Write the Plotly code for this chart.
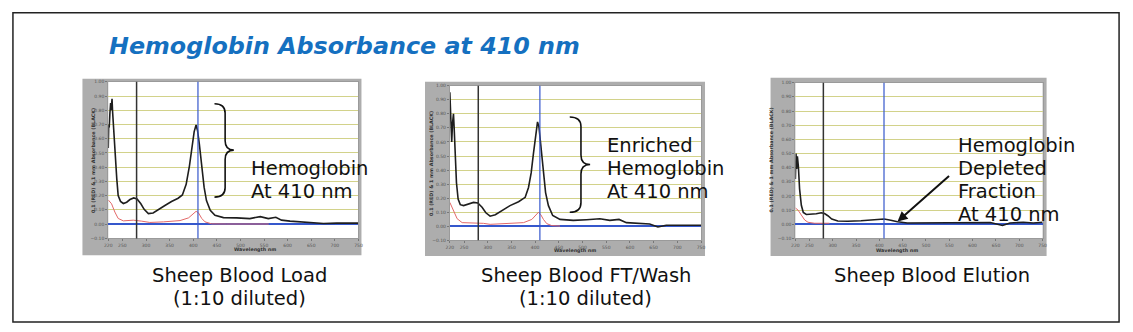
import plotly.graph_objects as go

W, H = 1133, 332

# ---- Spectra: Sheep Blood Load (1:10 diluted) ----
load_wl = [220, 221, 222, 223.5, 225, 226, 228, 229, 231, 234, 238, 241, 246, 252, 259, 266, 274,
           281, 289, 296, 305, 315, 326, 340, 354, 368, 377, 385, 392, 397, 402, 406, 409, 413,
           418, 423, 428, 436, 446, 464, 492, 520, 542, 559, 575, 587, 605, 626, 648, 676, 704, 750]
load_abs = [0.535, 0.70, 0.68, 0.78, 0.85, 0.80, 0.88, 0.80, 0.68, 0.50, 0.32, 0.20, 0.16, 0.145,
            0.154, 0.173, 0.184, 0.177, 0.143, 0.104, 0.074, 0.078, 0.104, 0.131, 0.159, 0.182,
            0.205, 0.28, 0.41, 0.546, 0.65, 0.696, 0.66, 0.56, 0.40, 0.26, 0.166, 0.097, 0.062,
            0.046, 0.044, 0.039, 0.053, 0.039, 0.048, 0.028, 0.021, 0.016, 0.009, 0.005, 0.007, 0.007]
load_red_wl = [220, 227, 234, 241, 252, 273, 291, 308, 337, 372, 390, 399, 406, 411, 418, 425, 439,
               470, 520, 560]
load_red = [0.17, 0.143, 0.085, 0.04, 0.023, 0.028, 0.021, 0.012, 0.016, 0.025, 0.044, 0.069, 0.09,
            0.08, 0.04, 0.016, 0.002, 0.001, 0.002, 0.001]

# ---- Spectra: Sheep Blood FT/Wash (1:10 diluted) ----
wash_wl = [220, 221.4, 222.8, 224, 225.6, 227.7, 229, 231, 234, 237.5, 242, 249, 260, 270, 279, 288,
           296, 305, 316, 330, 347, 365, 379, 386, 391.6, 396.5, 400.7, 405, 408, 412.6, 417.5,
           422, 428, 437, 452.5, 480.5, 508.5, 536.5, 557.5, 577, 592.5, 613.5, 641.6, 659, 676.6,
           704.6, 750]
wash_abs = [0.953, 0.78, 0.65, 0.60, 0.73, 0.80, 0.71, 0.52, 0.31, 0.194, 0.154, 0.147, 0.159, 0.17,
            0.166, 0.136, 0.096, 0.072, 0.082, 0.112, 0.147, 0.175, 0.206, 0.276, 0.38, 0.52, 0.64,
            0.743, 0.708, 0.568, 0.38, 0.24, 0.147, 0.077, 0.049, 0.042, 0.047, 0.054, 0.042, 0.049,
            0.026, 0.021, 0.016, -0.005, 0.007, 0.007, 0.007]
wash_red_wl = [220, 228.4, 235.4, 246, 270, 291, 305, 340, 375.5, 393, 401, 407, 412, 417.5, 424.5,
               435, 452.5]
wash_red = [0.17, 0.112, 0.054, 0.026, 0.026, 0.021, 0.014, 0.019, 0.026, 0.049, 0.082, 0.10, 0.082,
            0.049, 0.019, 0.005, 0.002]

# ---- Spectra: Sheep Blood Elution ----
elu_wl = [220, 221.4, 222.8, 224.3, 226.4, 229, 232.8, 237, 243.4, 254, 264.8, 275.4, 282.5, 289.6,
          298, 311, 332, 360.7, 382, 399.8, 410.4, 424.6, 438.8, 460, 495.7, 531, 566.7, 602, 637.8,
          664, 680, 708.8, 730, 750]
elu_abs = [0.32, 0.50, 0.39, 0.48, 0.41, 0.25, 0.134, 0.083, 0.069, 0.069, 0.074, 0.081, 0.076, 0.06,
           0.037, 0.023, 0.021, 0.025, 0.030, 0.037, 0.037, 0.028, 0.018, 0.009, 0.009, 0.012, 0.014,
           0.012, 0.012, -0.009, 0.009, 0.014, 0.009, 0.014]
elu_red_wl = [220, 225.7, 232.8, 240, 247, 261, 282.5, 293]
elu_red = [0.115, 0.10, 0.065, 0.03, 0.014, 0.007, 0.007, 0.007]

# ---- Axis settings ----
x_ticks = [220, 250, 300, 350, 400, 450, 500, 550, 600, 650, 700, 750]
y_ticks = [-0.10, 0.00, 0.10, 0.20, 0.30, 0.40, 0.50, 0.60, 0.70, 0.80, 0.90, 1.00]
marker_lines_nm = [280, 410]

# plot areas in pixels: (left, top, right, bottom)
plot_boxes = [(105, 81, 357, 240), (449, 85, 702, 242), (797, 82, 1046, 240)]
# grey instrument panels behind each plot: (left, top, right, bottom)
panels = [(79, 78, 360, 257), (424, 81, 706, 258), (772, 77, 1050, 258)]

captions = [["Sheep Blood Load", "(1:10 diluted)"],
            ["Sheep Blood FT/Wash", "(1:10 diluted)"],
            ["Sheep Blood Elution"]]
caption_cx = [237, 586, 935]

TEXT_FONT = "DejaVu Sans"
GRID = "#d2d28a"
BLUE = "#3557cc"


def px(x):
    return x / W


def py(y):
    return 1 - y / H


fig = go.Figure()
series = [(load_wl, load_abs, load_red_wl, load_red),
          (wash_wl, wash_abs, wash_red_wl, wash_red),
          (elu_wl, elu_abs, elu_red_wl, elu_red)]

shapes = []
annotations = []

for i, (wl, ab, rwl, rd) in enumerate(series):
    xa = "x" if i == 0 else f"x{i + 1}"
    ya = "y" if i == 0 else f"y{i + 1}"
    fig.add_trace(go.Scatter(x=rwl, y=rd, mode="lines", xaxis=xa, yaxis=ya,
                             line=dict(color="#e26868", width=1), showlegend=False))
    fig.add_trace(go.Scatter(x=wl, y=ab, mode="lines", xaxis=xa, yaxis=ya,
                             line=dict(color="#1e1e1e", width=1.6), showlegend=False))

    l, t, r, b = plot_boxes[i]
    axis_common = dict(showline=True, linecolor="#9a9a9a", linewidth=1, mirror=True,
                       ticks="outside", ticklen=2, tickcolor="#777",
                       tickfont=dict(family=TEXT_FONT, size=4.5, color="#555"))
    key = "" if i == 0 else str(i + 1)
    fig.update_layout(**{
        f"xaxis{key}": dict(domain=[px(l), px(r)], range=[220, 750], tickvals=x_ticks,
                            showgrid=False, zeroline=False, anchor=ya, **axis_common),
        f"yaxis{key}": dict(domain=[py(b), py(t)], range=[-0.10, 1.00], tickvals=y_ticks,
                            tickformat=".2f", showgrid=True, gridcolor=GRID, gridwidth=1.4,
                            zeroline=True, zerolinecolor=BLUE, zerolinewidth=1.6,
                            anchor=xa, **axis_common),
    })

    # grey panel, with the white plotting area on top of it
    pl, pt, pr, pb = panels[i]
    shapes.append(dict(type="rect", xref="paper", yref="paper", x0=px(pl), x1=px(pr),
                       y0=py(pb), y1=py(pt), fillcolor="#adadad", line=dict(width=0),
                       layer="below"))
    shapes.append(dict(type="rect", xref="paper", yref="paper", x0=px(l), x1=px(r),
                       y0=py(b), y1=py(t), fillcolor="white", line=dict(width=0),
                       layer="below"))
    # marker wavelengths
    for nm, col, wdt in zip(marker_lines_nm, ["#333333", BLUE], [1.5, 1.2]):
        shapes.append(dict(type="line", xref=xa, yref=f"{ya} domain", x0=nm, x1=nm, y0=0, y1=1,
                           line=dict(color=col, width=wdt), layer="above"))
    # axis titles inside the panel
    annotations.append(dict(text="<b>0.1 (RED) &amp; 1 mm Absorbance (BLACK)</b>", textangle=-90,
                            xref="paper", yref="paper", x=px(pl + 6), y=py((t + b) / 2),
                            showarrow=False, font=dict(family=TEXT_FONT, size=4.8, color="#333")))
    annotations.append(dict(text="<b>Wavelength nm</b>", xref="paper", yref="paper",
                            x=px((l + r) / 2), y=py(pb - 1), yanchor="bottom",
                            showarrow=False, borderpad=0,
                            font=dict(family=TEXT_FONT, size=4.8, color="#333")))
    # captions
    for j, line in enumerate(captions[i]):
        annotations.append(dict(text=line, xref="paper", yref="paper", x=px(caption_cx[i]),
                                y=py(278 + 23 * j), xanchor="center", yanchor="middle",
                                showarrow=False,
                                font=dict(family=TEXT_FONT, size=19.5, color="#111")))


def brace(xref, yref, x0, x1, yt, yb, ym):
    xs = x0 + 0.55 * (x1 - x0)
    rr = 0.10 * (yt - yb)
    d = (f"M {x0},{yt} Q {xs},{yt} {xs},{yt - rr} L {xs},{ym + rr} "
         f"Q {xs},{ym} {x1},{ym} Q {xs},{ym} {xs},{ym - rr} L {xs},{yb + rr} "
         f"Q {xs},{yb} {x0},{yb}")
    return dict(type="path", xref=xref, yref=yref, path=d,
                line=dict(color="#111", width=1.6), layer="above")


shapes.append(brace("x", "y", 445, 486, 0.846, 0.19, 0.52))
shapes.append(brace("x2", "y2", 473, 516, 0.778, 0.10, 0.44))

# outer frame
shapes.append(dict(type="rect", xref="paper", yref="paper", x0=px(9), x1=px(1123),
                   y0=py(325), y1=py(11), line=dict(color="#222", width=1.5),
                   fillcolor="rgba(0,0,0,0)", layer="above"))

# side labels
side_labels = [(247, ["Hemoglobin", "At 410 nm"], 169),
               (605, ["Enriched", "Hemoglobin", "At 410 nm"], 146),
               (959, ["Hemoglobin", "Depleted", "Fraction", "At 410 nm"], 146)]
for xl, lines, y0 in side_labels:
    for j, line in enumerate(lines):
        annotations.append(dict(text=line, xref="paper", yref="paper", x=px(xl),
                                y=py(y0 + 23.3 * j), xanchor="left", yanchor="middle",
                                showarrow=False,
                                font=dict(family=TEXT_FONT, size=19.5, color="#111")))

# arrow to the 410 nm region of the elution spectrum
annotations.append(dict(text="", x=439, y=0.019, xref="x3", yref="y3", ax=53, ay=-47,
                        showarrow=True, arrowhead=2, arrowsize=1, arrowwidth=2,
                        arrowcolor="#111"))

# slide title
annotations.append(dict(text="<b><i>Hemoglobin Absorbance at 410 nm</i></b>", xref="paper",
                        yref="paper", x=px(104), y=py(45), xanchor="left", yanchor="middle",
                        showarrow=False,
                        font=dict(family=TEXT_FONT, size=23.8, color="#1570c0")))

fig.update_layout(width=W, height=H, margin=dict(l=0, r=0, t=0, b=0),
                  paper_bgcolor="white", plot_bgcolor="white",
                  shapes=shapes, annotations=annotations, showlegend=False)

fig.write_html("out.html", config={"displayModeBar": False})
